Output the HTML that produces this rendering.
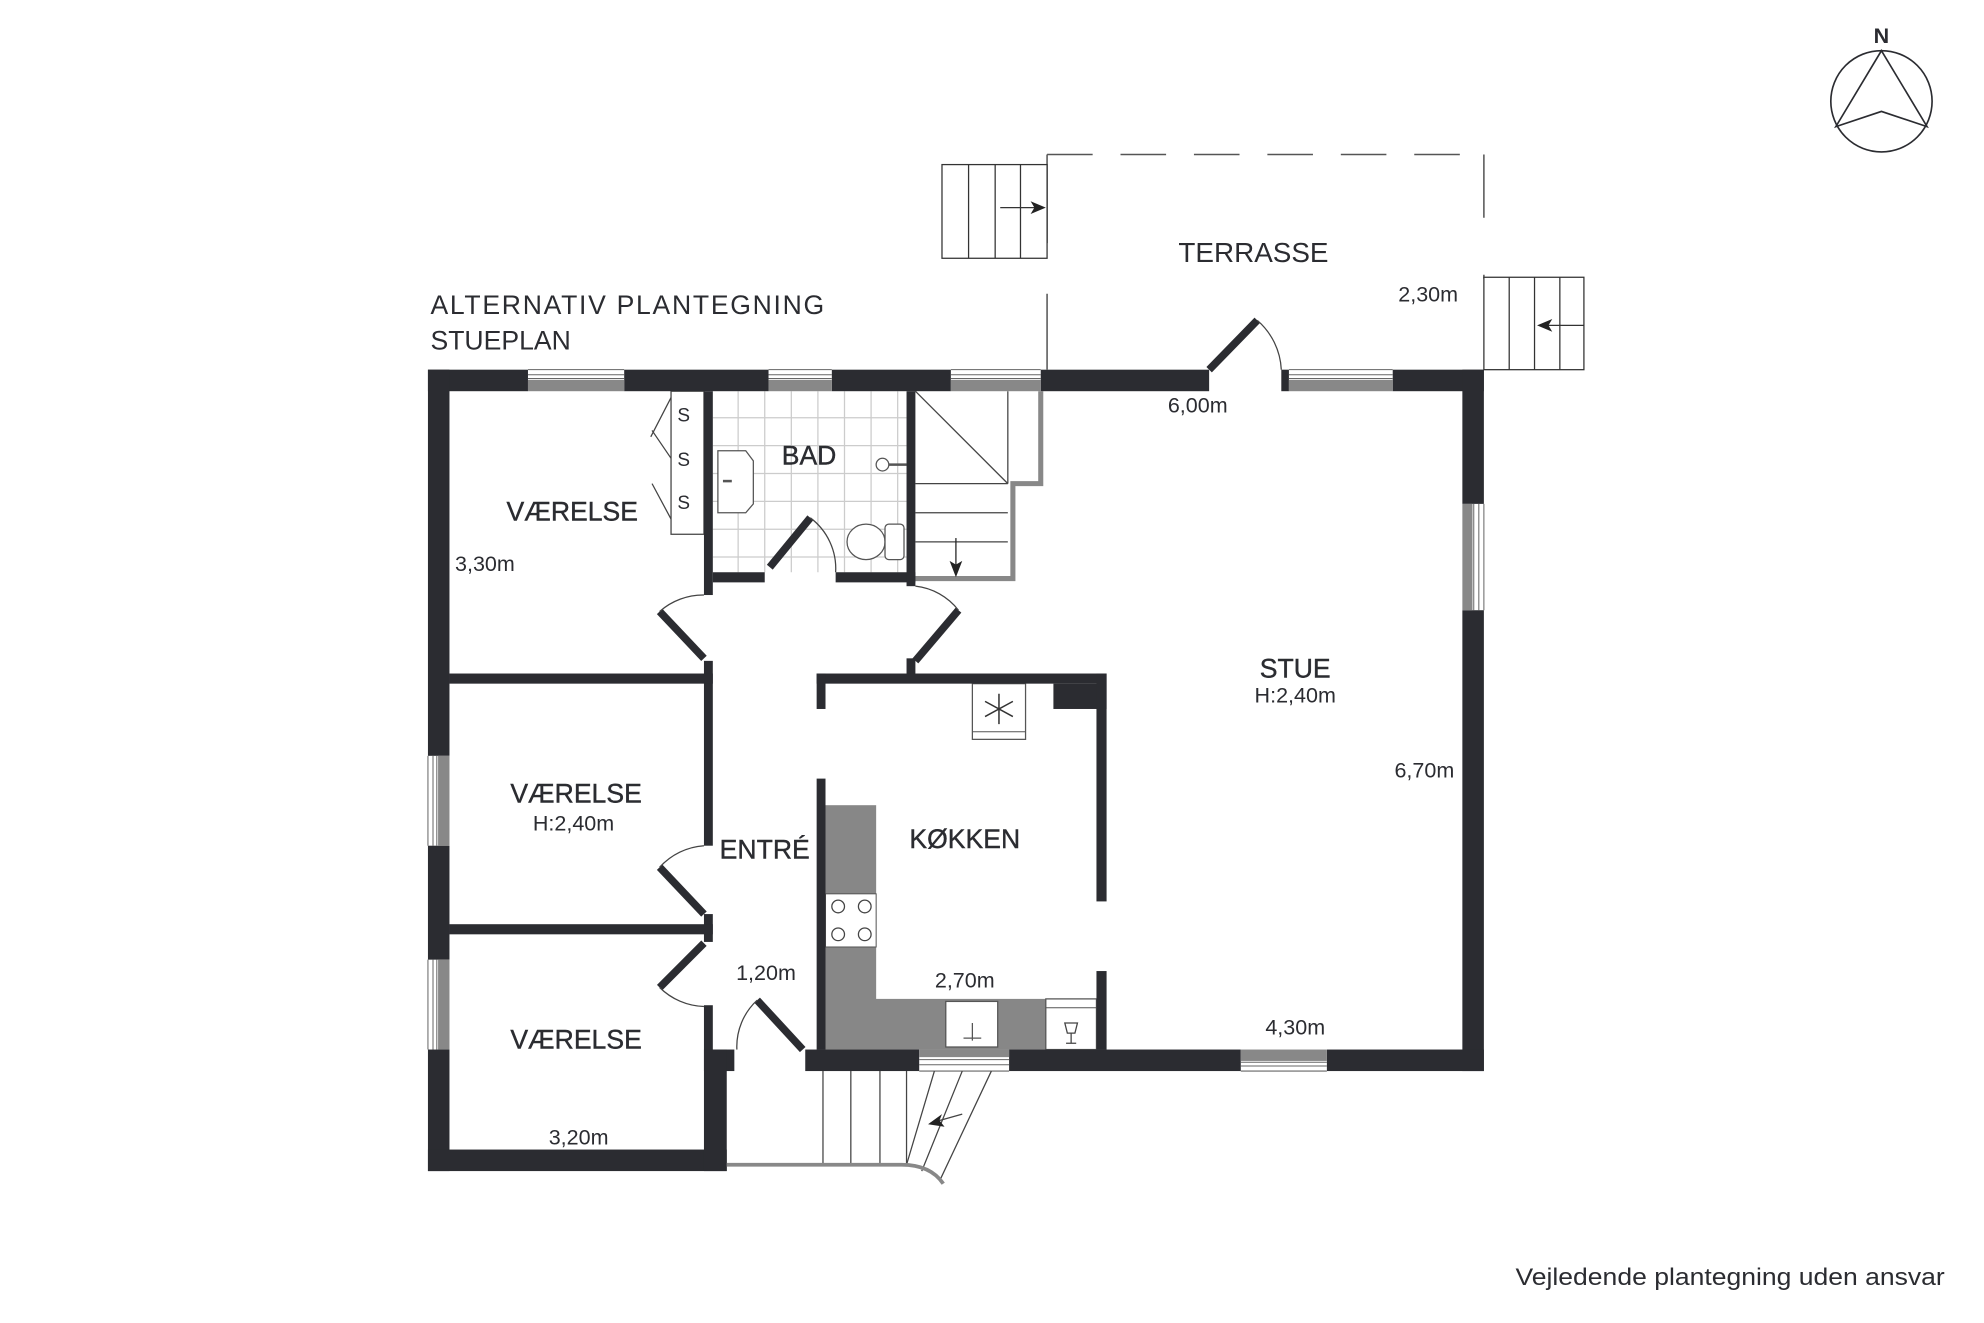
<!DOCTYPE html>
<html><head><meta charset="utf-8"><style>
html,body{margin:0;padding:0;background:#fff;}
svg{display:block;}
text{font-family:"Liberation Sans",sans-serif;fill:#2b2c31;}
</style></head><body>
<svg width="1984" height="1323" viewBox="0 0 1567 1045" preserveAspectRatio="none" xmlns="http://www.w3.org/2000/svg">
<rect width="1567" height="1045" fill="#fff"/>

<!-- compass -->
<text x="1486" y="34" font-size="17" font-weight="bold" text-anchor="middle">N</text>
<circle cx="1486" cy="80" r="40" fill="none" stroke="#2b2c31" stroke-width="1.3"/>
<path d="M1486 40 L1522 100 L1486 88 L1450 100 Z" fill="none" stroke="#2b2c31" stroke-width="1.3"/>

<!-- titles -->
<text x="340" y="248" font-size="21" textLength="311">ALTERNATIV PLANTEGNING</text>
<text x="340" y="276" font-size="21">STUEPLAN</text>
<text x="1197" y="1015" font-size="19" textLength="339" lengthAdjust="spacingAndGlyphs">Vejledende plantegning uden ansvar</text>

<!-- terrace dashed -->
<g stroke="#555" stroke-width="1.2" fill="none">
<path d="M827 122 H1172" stroke-dasharray="36,22"/>
<path d="M827 122 V292" stroke-dasharray="70,40"/>
<path d="M1172 122 V220" stroke-dasharray="50,45"/>
</g>
<!-- terrace stairs -->
<g stroke="#333" stroke-width="1" fill="#fff">
<rect x="744" y="130" width="83" height="74"/>
<path d="M765 130V204M786 130V204M806 130V204"/>
<path d="M790 164H824"/>
<rect x="1172" y="219" width="79" height="73"/>
<path d="M1192 219V292M1212 219V292M1232 219V292"/>
<path d="M1251 257H1216"/>
</g>
<path d="M826 164 L814 159 L817 164 L814 169Z" fill="#222"/>
<path d="M1214 257 L1226 252 L1223 257 L1226 262Z" fill="#222"/>
<text x="990" y="207" font-size="22" text-anchor="middle">TERRASSE</text>
<text x="1128" y="238" font-size="17" text-anchor="middle">2,30m</text>

<!-- BAD tiles -->
<g stroke="#ccc" stroke-width="1">
<path d="M563 330H716M563 352H716M563 374H716M563 396H716M563 418H716M563 440H716"/>
<path d="M583 309V452M604 309V452M625 309V452M646 309V452M667 309V452M688 309V452M709 309V452"/>
</g>

<!-- inner stair -->
<g stroke="#444" stroke-width="1" fill="#fff">
<path d="M723 309 L796 382"/>
<path d="M796 309V382 M723 382H796 M723 405H796 M723 428H796"/>
</g>
<path d="M822 309V382H800V457H723" fill="none" stroke="#888" stroke-width="4"/>
<path d="M755 425V452" stroke="#222" stroke-width="1"/>
<path d="M755 456 L750 443 L755 446 L760 443Z" fill="#222"/>

<!-- kitchen counters -->
<rect x="652" y="636" width="40" height="193" fill="#878787"/>
<rect x="652" y="789" width="174" height="40" fill="#878787"/>
<rect x="652" y="706" width="40" height="42" fill="#fff" stroke="#555" stroke-width="0.8"/>
<g fill="none" stroke="#444" stroke-width="1">
<circle cx="662" cy="716" r="5"/><circle cx="683" cy="716" r="5"/>
<circle cx="662" cy="738" r="5"/><circle cx="683" cy="738" r="5"/>
</g>
<rect x="747" y="791" width="41" height="36" fill="#fff" stroke="#555" stroke-width="1"/>
<path d="M768 808V822M761 820H775" stroke="#555" stroke-width="1"/>
<rect x="826" y="789" width="40" height="40" fill="#fff" stroke="#555" stroke-width="1"/>
<path d="M826 796H866" stroke="#555" stroke-width="0.8"/>
<path d="M841 808H851L849 816H843Z M846 816V824 M842 824H850" fill="none" stroke="#444" stroke-width="1"/>
<!-- fridge -->
<rect x="768" y="540" width="42" height="44" fill="#fff" stroke="#555" stroke-width="1"/>
<path d="M768 578H810" stroke="#555" stroke-width="0.8"/>
<g stroke="#333" stroke-width="1.2">
<path d="M789 548V572M778 554L800 566M778 566L800 554"/>
</g>

<!-- closet -->
<g stroke="#444" stroke-width="1" fill="none">
<rect x="530" y="309" width="26" height="113"/>
<path d="M530 314 L514 345 M530 362 L515 340 M530 410 L515 382"/>
</g>
<text x="540" y="333" font-size="15" text-anchor="middle">S</text>
<text x="540" y="368" font-size="15" text-anchor="middle">S</text>
<text x="540" y="402" font-size="15" text-anchor="middle">S</text>
<!-- bath fixtures -->
<path d="M567 356H589L595 364V398L589 405H567Z" fill="#fff" stroke="#555" stroke-width="1"/>
<path d="M571 380H578" stroke="#555" stroke-width="2"/>
<ellipse cx="684" cy="428" rx="15" ry="14" fill="#fff" stroke="#555" stroke-width="1"/>
<rect x="699" y="414" width="15" height="28" rx="3" fill="#fff" stroke="#555" stroke-width="1"/>
<circle cx="697" cy="367" r="5" fill="none" stroke="#555" stroke-width="1"/>
<path d="M702 367H716" stroke="#555" stroke-width="2"/>

<!-- WALLS -->
<g fill="#2b2c31">
<rect x="338" y="292" width="79" height="17"/>
<rect x="493" y="292" width="114" height="17"/>
<rect x="657" y="292" width="94" height="17"/>
<rect x="822" y="292" width="133" height="17"/>
<rect x="1012" y="292" width="6" height="17"/>
<rect x="1100" y="292" width="72" height="17"/>
<rect x="1155" y="292" width="17" height="106"/>
<rect x="1155" y="482" width="17" height="364"/>
<rect x="797" y="829" width="183" height="17"/>
<rect x="1048" y="829" width="124" height="17"/>
<rect x="636" y="829" width="90" height="17"/>
<rect x="338" y="292" width="17" height="305"/>
<rect x="338" y="668" width="17" height="90"/>
<rect x="338" y="829" width="17" height="96"/>
<rect x="338" y="908" width="236" height="17"/>
<rect x="556" y="829" width="24" height="17"/>
<rect x="556" y="829" width="18" height="96"/>
<rect x="556" y="309" width="7" height="161"/>
<rect x="556" y="522" width="7" height="146"/>
<rect x="355" y="532" width="208" height="8"/>
<rect x="556" y="722" width="7" height="22"/>
<rect x="355" y="730" width="208" height="8"/>
<rect x="556" y="794" width="7" height="35"/>
<rect x="563" y="452" width="41" height="8"/>
<rect x="660" y="452" width="63" height="8"/>
<rect x="716" y="309" width="7" height="154"/>
<rect x="716" y="520" width="7" height="15"/>
<rect x="645" y="532" width="229" height="8"/>
<rect x="645" y="532" width="7" height="28"/>
<rect x="645" y="615" width="7" height="214"/>
<rect x="832" y="540" width="42" height="20"/>
<rect x="866" y="532" width="8" height="180"/>
<rect x="866" y="767" width="8" height="62"/>
</g>
<!-- windows -->
<g fill="#888">
<rect x="417" y="300" width="76" height="9"/>
<rect x="607" y="300" width="50" height="9"/>
<rect x="751" y="300" width="71" height="9"/>
<rect x="1018" y="300" width="82" height="9"/>
<rect x="1155" y="398" width="8" height="84"/>
<rect x="346" y="597" width="9" height="71"/>
<rect x="346" y="758" width="9" height="71"/>
<rect x="980" y="829" width="68" height="9"/>
<rect x="726" y="829" width="71" height="6"/>
</g>
<g stroke="#666" stroke-width="0.8" fill="none">
<path d="M417 292H493M417 296H493M417 299H493"/>
<path d="M607 292H657M607 296H657M607 299H657"/>
<path d="M751 292H822M751 296H822M751 299H822"/>
<path d="M1018 292H1100M1018 296H1100M1018 299H1100"/>
<path d="M1172 398V482M1168 398V482M1164 398V482"/>
<path d="M338 597V668M342 597V668M345 597V668"/>
<path d="M338 758V829M342 758V829M345 758V829"/>
<path d="M980 846H1048M980 842H1048M980 839H1048"/>
<path d="M726 846H797M726 841H797M726 837H797"/>
</g>

<!-- doors -->
<g stroke="#2b2c31" stroke-width="6" stroke-linecap="butt">
<path d="M955 292 L993 253"/>
<path d="M556 520 L521 483"/>
<path d="M556 722 L521 685"/>
<path d="M556 745 L521 780"/>
<path d="M634 829 L598 790"/>
<path d="M608 448 L640 409"/>
<path d="M723 522 L757 482"/>
</g>
<g stroke="#444" stroke-width="1" fill="none">
<path d="M993 253 A55 55 0 0 1 1012 292"/>
<path d="M521 483 A52 52 0 0 1 556 470"/>
<path d="M521 685 A52 52 0 0 1 556 668"/>
<path d="M521 780 A52 52 0 0 0 556 795"/>
<path d="M598 790 A50 50 0 0 0 582 829"/>
<path d="M640 409 A50 50 0 0 1 660 452"/>
<path d="M723 463 A50 50 0 0 1 757 482"/>
</g>

<!-- front stairs -->
<g stroke="#444" stroke-width="1" fill="none">
<path d="M650 846V920M672 846V920M695 846V920M716 846V920"/>
<path d="M738 846 L716 920 M760 846 L728 925 M783 846 L742 933"/>
<path d="M735 887 L760 880"/>
</g>
<path d="M733 888 L744 880 L742 885 L746 890Z" fill="#222"/>
<path d="M574 920 H712 Q735 920 745 935" fill="none" stroke="#888" stroke-width="3"/>

<!-- labels -->
<g stroke="#2b2c31" stroke-width="0.3">
<text x="452" y="411" font-size="21" text-anchor="middle">VÆRELSE</text>
<text x="639" y="367" font-size="21" text-anchor="middle">BAD</text>
<text x="455" y="634" font-size="21" text-anchor="middle">VÆRELSE</text>
<text x="455" y="828" font-size="21" text-anchor="middle">VÆRELSE</text>
<text x="604" y="678" font-size="21" text-anchor="middle">ENTRÉ</text>
<text x="762" y="670" font-size="21" text-anchor="middle">KØKKEN</text>
<text x="1023" y="535" font-size="21" text-anchor="middle">STUE</text>
</g>
<text x="383" y="451" font-size="17" text-anchor="middle">3,30m</text>
<text x="453" y="656" font-size="17" text-anchor="middle">H:2,40m</text>
<text x="457" y="904" font-size="17" text-anchor="middle">3,20m</text>
<text x="605" y="774" font-size="17" text-anchor="middle">1,20m</text>
<text x="762" y="780" font-size="17" text-anchor="middle">2,70m</text>
<text x="1023" y="555" font-size="17" text-anchor="middle">H:2,40m</text>
<text x="1125" y="614" font-size="17" text-anchor="middle">6,70m</text>
<text x="1023" y="817" font-size="17" text-anchor="middle">4,30m</text>
<text x="946" y="326" font-size="17" text-anchor="middle">6,00m</text>
</svg>
</body></html>
